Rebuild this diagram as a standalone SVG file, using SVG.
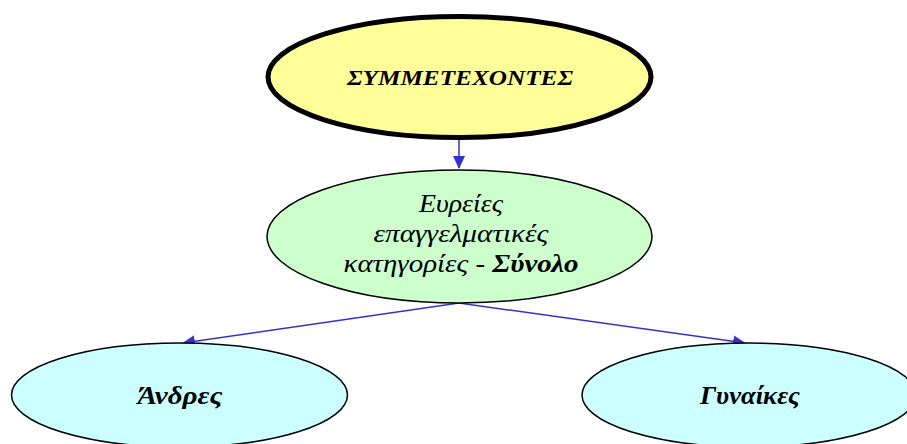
<svg xmlns="http://www.w3.org/2000/svg" width="907" height="444" viewBox="0 0 907 444">
<defs>
<style>
text{font-family:"Liberation Serif","DejaVu Serif",serif;font-style:italic;fill:#000;text-anchor:middle}
.b{font-weight:bold}
.edge{stroke:#3333cc;stroke-width:1.5;fill:none}
</style>
<marker id="ah" markerWidth="13" markerHeight="12" refX="12" refY="6" orient="auto" markerUnits="userSpaceOnUse">
<path d="M0,0 L13,6 L0,12 z" fill="#3333cc"/>
</marker>
</defs>
<rect width="907" height="444" fill="#fff"/>
<g id="edges">
<path class="edge" d="M459,139 L459,168" marker-end="url(#ah)"/>
<path class="edge" d="M459,303 L183,343" marker-end="url(#ah)"/>
<path class="edge" d="M459,303 L745,343" marker-end="url(#ah)"/>
</g>
<g id="n_top">
<ellipse cx="459.5" cy="77" rx="191.5" ry="60.5" fill="#ffff99" stroke="#000" stroke-width="5"/>
<text class="b" x="460" y="85" font-size="22" textLength="226" lengthAdjust="spacingAndGlyphs">ΣΥΜΜΕΤΕΧΟΝΤΕΣ</text>
</g>
<g id="n_mid">
<ellipse cx="459.5" cy="236.5" rx="192.5" ry="66.5" fill="#ccffcc" stroke="#000" stroke-width="1.5"/>
<text x="461" y="212" font-size="25" textLength="84" lengthAdjust="spacingAndGlyphs">Ευρείες</text>
<text x="461" y="242" font-size="25" textLength="175" lengthAdjust="spacingAndGlyphs">επαγγελματικές</text>
<text x="461" y="272" font-size="25" textLength="235" lengthAdjust="spacingAndGlyphs">κατηγορίες - <tspan class="b">Σύνολο</tspan></text>
</g>
<g id="n_men">
<ellipse cx="179.5" cy="395" rx="168" ry="52" fill="#ccffff" stroke="#000" stroke-width="1.5"/>
<text class="b" x="180" y="404" font-size="25" textLength="85" lengthAdjust="spacingAndGlyphs">Άνδρες</text>
</g>
<g id="n_women">
<ellipse cx="749" cy="395" rx="167" ry="52" fill="#ccffff" stroke="#000" stroke-width="1.5"/>
<text class="b" x="750" y="404" font-size="25" textLength="100" lengthAdjust="spacingAndGlyphs">Γυναίκες</text>
</g>
</svg>
